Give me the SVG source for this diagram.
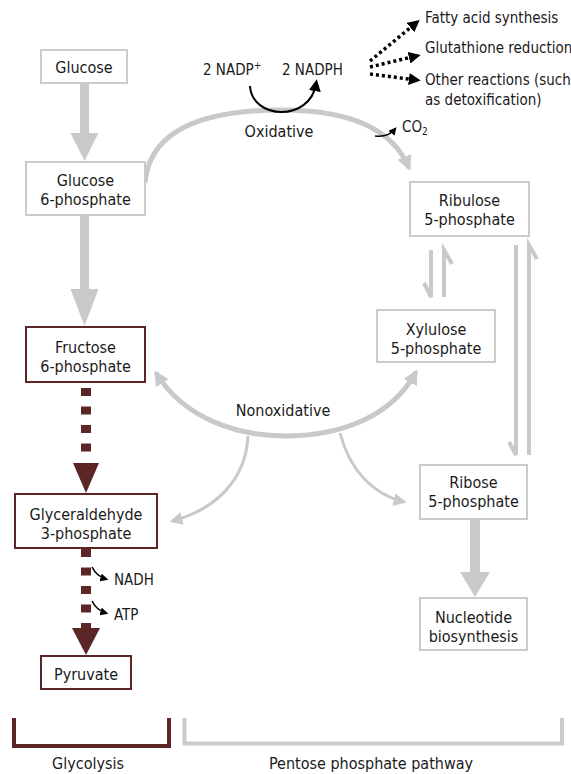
<svg xmlns="http://www.w3.org/2000/svg" width="571" height="774" viewBox="0 0 571 774">
<style>
text{font-family:"DejaVu Sans Condensed","DejaVu Sans",sans-serif;fill:#1a1a1a}
.t{font-size:16px;text-anchor:middle}
.s{font-size:15px}
.gb{fill:#fff;stroke:#cbcbcb;stroke-width:2}
.rb{fill:#fff;stroke:#5c2626;stroke-width:2}
.ga{fill:none;stroke:#c9c9c9}
.gf{fill:#c9c9c9}
.dk{fill:#5c2626}
.bk{fill:none;stroke:#000}
</style>
<defs>
<marker id="gh" viewBox="0 0 10 10" refX="8" refY="5" markerWidth="15" markerHeight="15" markerUnits="userSpaceOnUse" orient="auto-start-reverse"><path d="M0,0 L10,5 L0,10 z" fill="#c9c9c9"/></marker>
<marker id="gs" viewBox="0 0 10 10" refX="8" refY="5" markerWidth="13" markerHeight="13" markerUnits="userSpaceOnUse" orient="auto"><path d="M0,0 L10,5 L0,10 z" fill="#c9c9c9"/></marker>
<marker id="kh" viewBox="0 0 10 10" refX="7" refY="5" markerWidth="8" markerHeight="8" markerUnits="userSpaceOnUse" orient="auto"><path d="M0,0 L10,5 L0,10 z" fill="#000"/></marker>
<marker id="kd" viewBox="0 0 10 10" refX="6" refY="5" markerWidth="12" markerHeight="12" markerUnits="userSpaceOnUse" orient="auto"><path d="M0,0 L10,5 L0,10 z" fill="#000"/></marker>
</defs>

<g id="connectors">
  <!-- Glucose -> G6P -->
  <rect class="gf" x="80" y="83" width="9" height="52"/>
  <polygon class="gf" points="70.5,133 98.5,133 84.5,161"/>
  <!-- G6P -> F6P -->
  <rect class="gf" x="80" y="215" width="9" height="76"/>
  <polygon class="gf" points="70.5,289 98.5,289 84.5,326"/>
  <!-- F6P -> G3P dashed -->
  <line x1="86" y1="388" x2="86" y2="462" stroke="#5c2626" stroke-width="10" stroke-dasharray="8 10.5"/>
  <polygon class="dk" points="73,463 99,463 86,493"/>
  <!-- G3P -> Pyruvate dashed -->
  <line x1="86" y1="549" x2="86" y2="630" stroke="#5c2626" stroke-width="10" stroke-dasharray="8 10.5"/>
  <polygon class="dk" points="72,628 100,628 86,655"/>
  <!-- NADH / ATP -->
  <path class="bk" stroke-width="1.6" d="M92,567 C95,573 99,577 106,579" marker-end="url(#kh)"/>
  <path class="bk" stroke-width="1.6" d="M92,601 C95,607 99,611 106,613" marker-end="url(#kh)"/>
  <!-- Oxidative arc -->
  <path class="ga" stroke-width="5" d="M145,183 C150,124 215,110 282,110 C345,110 392,127 409,168" marker-end="url(#gh)"/>
  <!-- NADP curved arrow -->
  <path class="bk" stroke-width="2" d="M250,86 C252,120 310,122 316,84" marker-end="url(#kd)"/>
  <!-- CO2 arrow -->
  <path class="bk" stroke-width="1.6" d="M375,136 C382,137 390,135 395,129" marker-end="url(#kh)"/>
  <!-- Dotted NADPH arrows -->
  <path class="bk" stroke-width="3.5" stroke-dasharray="3 3" d="M370,61 L416,23" marker-end="url(#kd)"/>
  <path class="bk" stroke-width="3.5" stroke-dasharray="3 3" d="M370,67 L416,56" marker-end="url(#kd)"/>
  <path class="bk" stroke-width="3.5" stroke-dasharray="3 3" d="M370,74 L416,80" marker-end="url(#kd)"/>
  <!-- Ribulose <-> Xylulose -->
  <path class="ga" stroke-width="4" d="M431,250 L431,297 L424,283"/>
  <path class="ga" stroke-width="4" d="M444,297 L444,250 L452,264"/>
  <!-- Ribulose <-> Ribose -->
  <path class="ga" stroke-width="4" d="M516,245 L516,455 L509,442"/>
  <path class="ga" stroke-width="4" d="M529,455 L529,245 L537,259"/>
  <!-- Nonoxidative arc -->
  <path class="ga" stroke-width="5" d="M156,373 C185,420 240,436 285,436 C335,436 390,420 416,372" marker-start="url(#gh)" marker-end="url(#gh)"/>
  <path class="ga" stroke-width="3" d="M248,436 C246,480 215,510 172,521" marker-end="url(#gs)"/>
  <path class="ga" stroke-width="3" d="M340,433 C350,472 375,495 404,502" marker-end="url(#gs)"/>
  <!-- Ribose -> Nucleotide -->
  <rect class="gf" x="470" y="519" width="10" height="55"/>
  <polygon class="gf" points="460,572 490,572 475,597"/>
</g>

<g id="glucose"><rect class="gb" x="41" y="50" width="86" height="33"/><text class="t" x="84" y="73">Glucose</text></g>
<g id="g6p"><rect class="gb" x="26" y="162" width="119" height="53"/><text class="t" x="85.5" y="186">Glucose</text><text class="t" x="85.5" y="205">6-phosphate</text></g>
<g id="f6p"><rect class="rb" x="26" y="327" width="119" height="55"/><text class="t" x="85.5" y="353">Fructose</text><text class="t" x="85.5" y="372">6-phosphate</text></g>
<g id="g3p"><rect class="rb" x="15" y="494" width="142" height="54"/><text class="t" x="86" y="520">Glyceraldehyde</text><text class="t" x="86" y="539">3-phosphate</text></g>
<g id="pyruvate"><rect class="rb" x="41" y="656" width="90" height="33"/><text class="t" x="86" y="680">Pyruvate</text></g>
<g id="ribulose"><rect class="gb" x="410" y="182" width="119" height="54"/><text class="t" x="469.5" y="206">Ribulose</text><text class="t" x="469.5" y="225">5-phosphate</text></g>
<g id="xylulose"><rect class="gb" x="377" y="310" width="118" height="52"/><text class="t" x="436" y="335">Xylulose</text><text class="t" x="436" y="354">5-phosphate</text></g>
<g id="ribose"><rect class="gb" x="420" y="465" width="107" height="54"/><text class="t" x="473.5" y="488">Ribose</text><text class="t" x="473.5" y="507">5-phosphate</text></g>
<g id="nucleotide"><rect class="gb" x="420" y="598" width="107" height="52"/><text class="t" x="473.5" y="623">Nucleotide</text><text class="t" x="473.5" y="642">biosynthesis</text></g>

<g id="labels">
  <text class="s" x="203" y="75">2 NADP<tspan font-size="10" dy="-6">+</tspan></text>
  <text class="s" x="282" y="75">2 NADPH</text>
  <text class="s" x="425" y="23">Fatty acid synthesis</text>
  <text class="s" x="425" y="53">Glutathione reduction</text>
  <text class="s" x="425" y="85">Other reactions (such</text>
  <text class="s" x="425" y="105">as detoxification)</text>
  <text class="t" x="279" y="137">Oxidative</text>
  <text class="s" x="402" y="132">CO<tspan font-size="10" dy="3">2</tspan></text>
  <text class="t" x="283" y="416">Nonoxidative</text>
  <text class="s" x="114" y="585">NADH</text>
  <text class="s" x="114" y="620">ATP</text>
</g>

<g id="brackets">
  <path d="M14,718 L14,746 L169,746 L169,718" fill="none" stroke="#5c2626" stroke-width="4"/>
  <text class="t" x="88" y="769">Glycolysis</text>
  <path d="M184.5,718 L184.5,743.5 L562,743.5 L562,718" fill="none" stroke="#cbcbcb" stroke-width="4"/>
  <text class="t" x="371" y="769">Pentose phosphate pathway</text>
</g>
</svg>
